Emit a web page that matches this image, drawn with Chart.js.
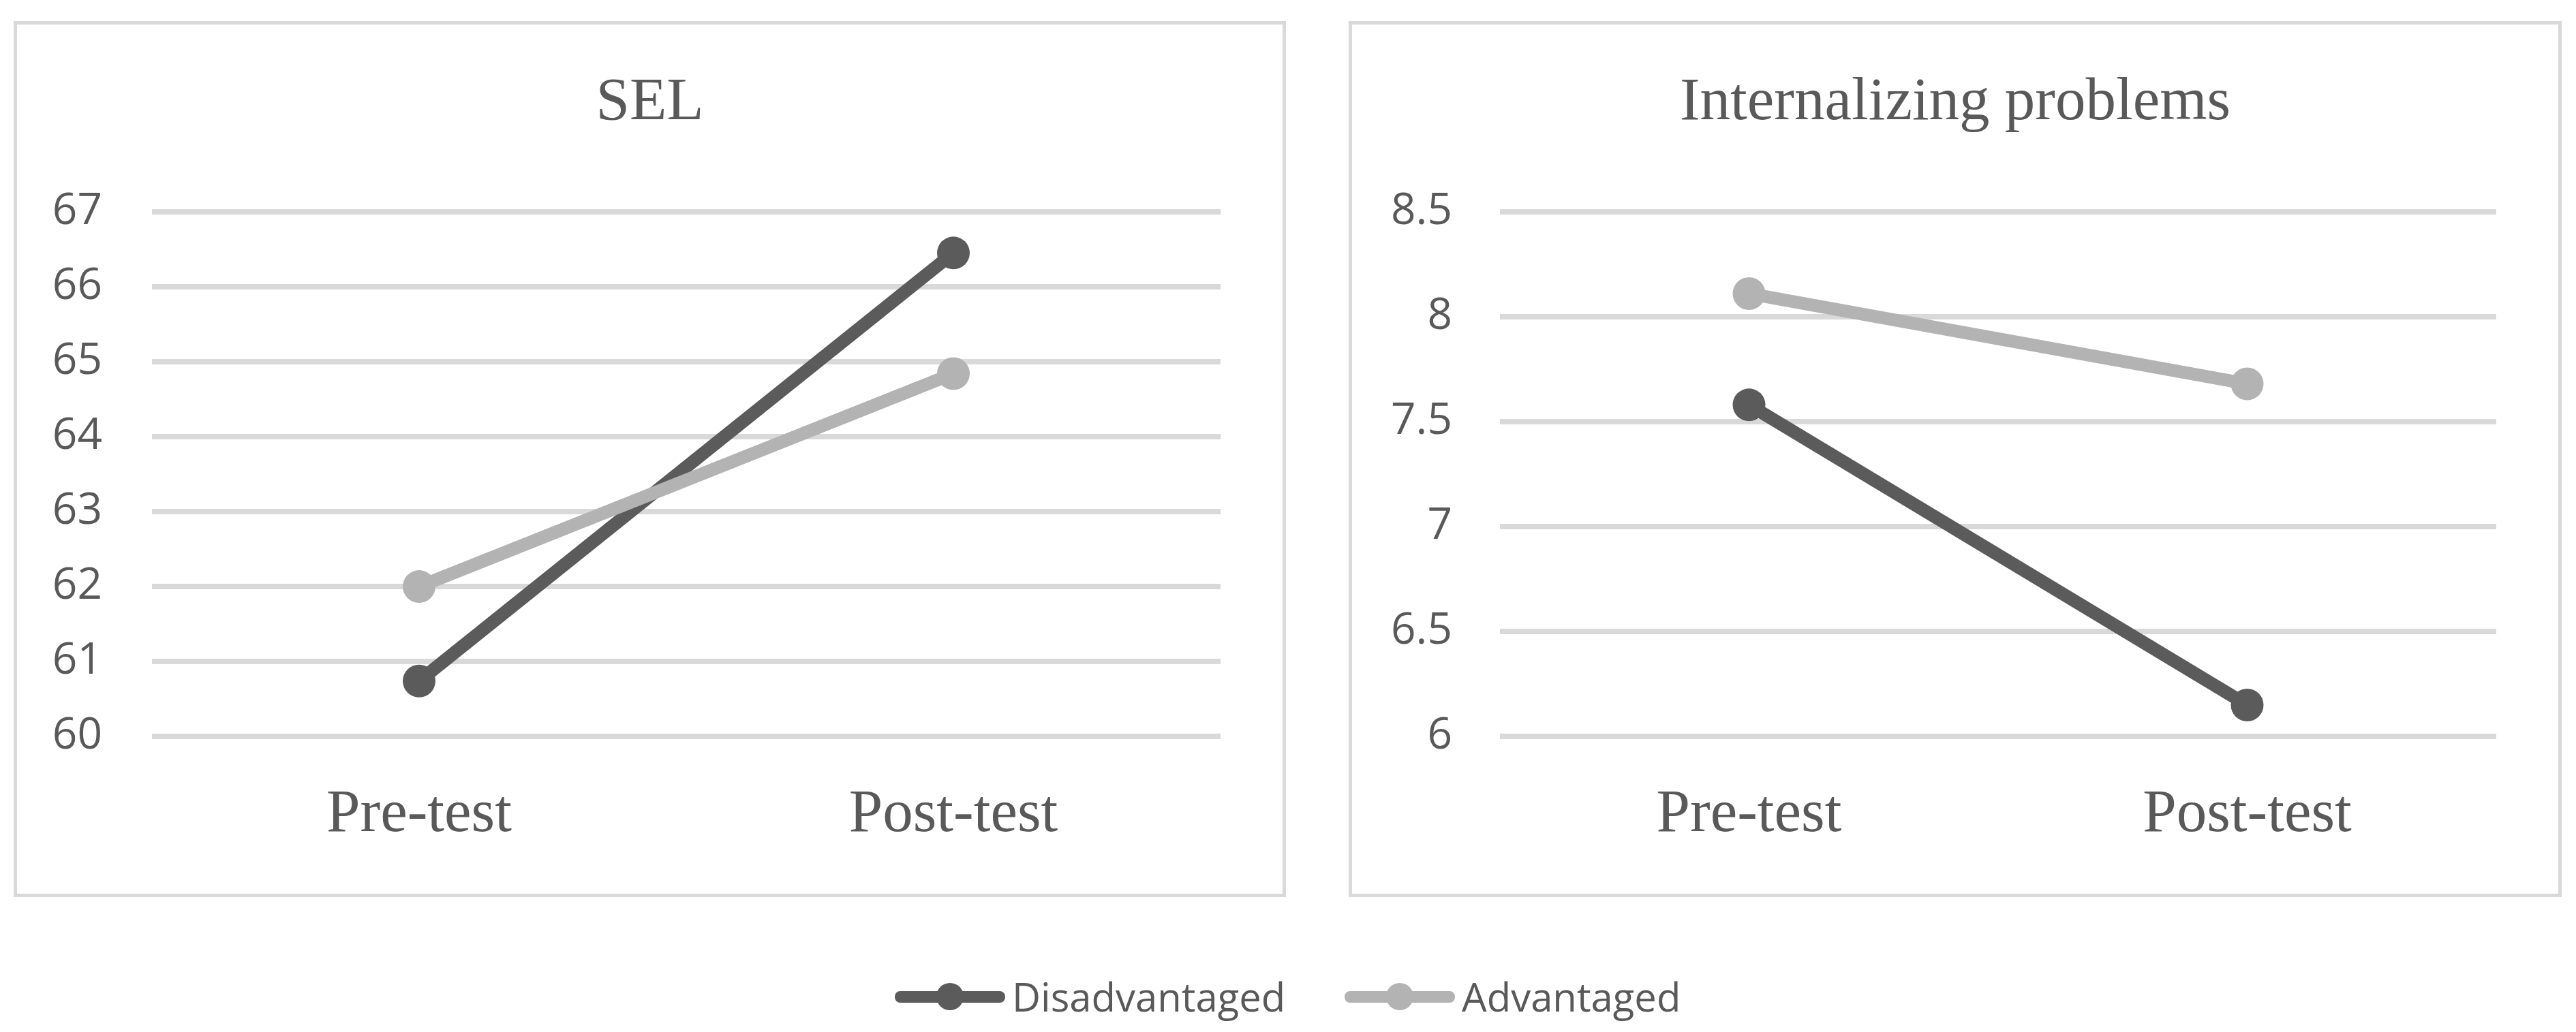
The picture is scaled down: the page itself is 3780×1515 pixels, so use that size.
<!DOCTYPE html>
<html>
<head>
<meta charset="utf-8">
<script src="https://cdn.jsdelivr.net/npm/chart.js@4/dist/chart.umd.min.js"></script>
<style>
  html, body { margin: 0; padding: 0; background: #ffffff; width: 3780px; height: 1515px; overflow: hidden; position: relative; }
  .panel { position: absolute; border: 5px solid #d9d9d9; box-sizing: border-box; background: #fff; }
  .panel canvas { position: absolute; left: 0; top: 0; }
  #legend { position: absolute; left: 0; top: 1423px; width: 3780px; height: 80px; font-family: "Open Sans", sans-serif; font-size: 58px; color: #595959; }
  .item { position: absolute; top: 0; height: 80px; line-height: 80px; white-space: nowrap; }
  .mk { position: absolute; top: 32px; width: 162px; height: 17px; border-radius: 8px; }
  .mk::after { content: ""; position: absolute; left: 61px; top: -12px; width: 40px; height: 40px; border-radius: 50%; background: inherit; }
  .lbl { position: absolute; top: 0; }
</style>
</head>
<body>
<div class="panel" id="p1" style="left:20px; top:31px; width:1867px; height:1286px;"><canvas id="c1" width="1857" height="1276"></canvas></div>
<div class="panel" id="p2" style="left:1979px; top:31px; width:1780px; height:1286px;"><canvas id="c2" width="1770" height="1276"></canvas></div>
<div id="legend"></div>
<script>
// ---- Data ----
const categories = ["Pre-test", "Post-test"];
const seriesNames = ["Disadvantaged", "Advantaged"];
const seriesColors = ["#5b5b5b", "#b3b3b3"];

const selTitle = "SEL";
const selDisadvantaged = [60.74, 66.45];
const selAdvantaged = [62.0, 64.84];
const selTicks = ["60", "61", "62", "63", "64", "65", "66", "67"];
const selMin = 60, selMax = 67, selStep = 1;

const intTitle = "Internalizing problems";
const intDisadvantaged = [7.58, 6.15];
const intAdvantaged = [8.11, 7.68];
const intTicks = ["6", "6.5", "7", "7.5", "8", "8.5"];
const intMin = 6, intMax = 8.5, intStep = 0.5;

// ---- Styles ----
const textColor = "#595959";
const gridColor = "#d9d9d9";
const serif = "'Liberation Serif', 'Times New Roman', serif";
const sans = "'Open Sans', sans-serif";

function makeDataset(label, data, color, order) {
  return {
    label: label,
    data: data,
    borderColor: color,
    backgroundColor: color,
    borderWidth: 19,
    pointRadius: 24,
    pointHoverRadius: 24,
    pointBorderWidth: 0,
    pointBackgroundColor: color,
    tension: 0,
    order: order
  };
}

function makeChart(canvasId, title, dis, adv, tickLabels, min, max, step, yWidth, tickPad) {
  const ctx = document.getElementById(canvasId);
  const rightGap = 91;
  return new Chart(ctx, {
    type: 'line',
    data: {
      labels: categories,
      datasets: [
        makeDataset(seriesNames[0], dis, seriesColors[0], 1),
        makeDataset(seriesNames[1], adv, seriesColors[1], 0)
      ]
    },
    options: {
      responsive: false,
      animation: false,
      devicePixelRatio: 1,
      layout: { padding: 0 },
      plugins: {
        legend: { display: false },
        tooltip: { enabled: false },
        title: {
          display: true,
          text: title,
          color: textColor,
          font: { family: serif, size: 89, weight: 'normal', lineHeight: 1.2 },
          padding: { top: 62, bottom: 106 }
        }
      },
      scales: {
        x: {
          type: 'category',
          offset: true,
          grid: { display: false, drawTicks: false },
          border: { display: false },
          ticks: {
            color: textColor,
            font: { family: serif, size: 89, lineHeight: 1.2 },
            padding: 62,
            maxRotation: 0,
            autoSkip: false
          }
        },
        y: {
          min: min,
          max: max,
          afterFit: function (scale) { scale.width = yWidth; },
          grid: { color: gridColor, lineWidth: 8, drawTicks: false },
          border: { display: false },
          ticks: {
            stepSize: step,
            color: textColor,
            font: { family: sans, size: 64, lineHeight: 1.2 },
            padding: tickPad,
            callback: function (value) {
              const idx = Math.round((value - min) / step);
              return tickLabels[idx];
            }
          }
        },
        spacer: {
          type: 'linear',
          position: 'right',
          display: true,
          afterFit: function (scale) { scale.width = rightGap; },
          grid: { display: false, drawTicks: false },
          border: { display: false },
          ticks: { display: false }
        }
      }
    }
  });
}

makeChart('c1', selTitle, selDisadvantaged, selAdvantaged, selTicks, selMin, selMax, selStep, 198, 73);
makeChart('c2', intTitle, intDisadvantaged, intAdvantaged, intTicks, intMin, intMax, intStep, 217, 70);

// ---- Legend (HTML text) ----
const legend = document.getElementById('legend');
const legendX = [1313, 1973];
seriesNames.forEach(function (name, i) {
  const item = document.createElement('div');
  item.className = 'item';
  item.style.left = legendX[i] + 'px';
  const mk = document.createElement('div');
  mk.className = 'mk';
  mk.style.left = '0px';
  mk.style.background = seriesColors[i];
  const lbl = document.createElement('span');
  lbl.className = 'lbl';
  lbl.style.left = '172px';
  lbl.textContent = name;
  item.appendChild(mk);
  item.appendChild(lbl);
  legend.appendChild(item);
});
</script>
</body>
</html>
